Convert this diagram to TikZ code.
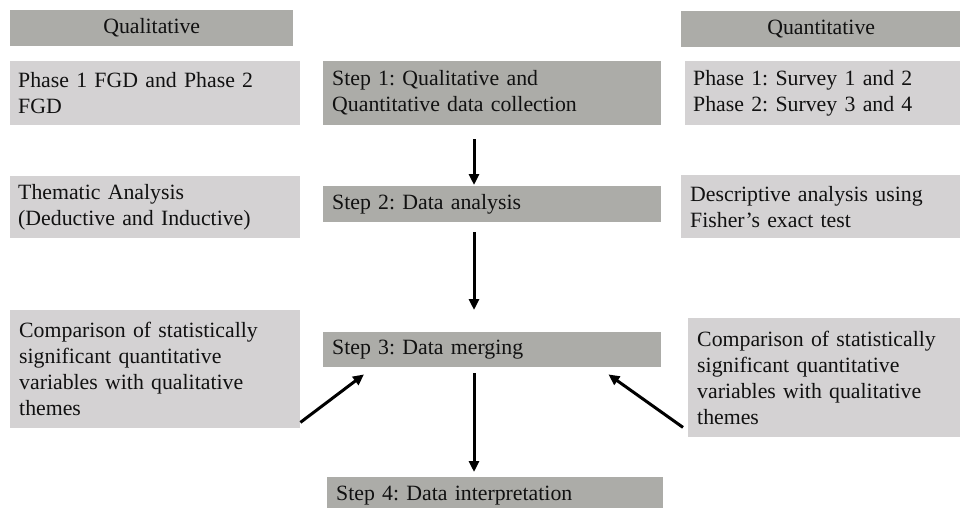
\documentclass[tikz,border=0pt]{standalone}
\usepackage{fontspec}
\setmainfont{Liberation Serif}
\frenchspacing
\usetikzlibrary{arrows.meta,calc}
\definecolor{darkbox}{RGB}{172,172,168}
\definecolor{lightbox}{RGB}{212,210,211}
\definecolor{ink}{RGB}{17,17,17}
\begin{document}
\begin{tikzpicture}[x=1pt,y=-1pt,
  every node/.style={font=\rmfamily\fontsize{21.8}{26}\selectfont, text=ink},
  base/.style={rectangle, anchor=north west, inner ysep=0pt, align=left},
  lightb/.style={base, fill=lightbox},
  darkb/.style={base, fill=darkbox},
  headb/.style={base, fill=darkbox, align=center, inner xsep=0pt},
  arr/.style={-{Triangle[length=11pt,width=10pt]}, line width=3pt, draw=black}
]
\clip (0,0) rectangle (960,508);
\fill[white] (0,0) rectangle (960,508);

% headers
\node[headb, text width=283pt, minimum height=36pt] (qualh) at (10,10) {Qualitative};
\node[headb, text width=280pt, minimum height=36pt] (quanth) at (681,11) {Quantitative};

% row 1
\node[lightb, inner xsep=8pt, text width=274pt, minimum height=64pt] (l1) at (10,61)
  {Phase 1 FGD and Phase 2\\FGD};
\node[darkb, inner xsep=9pt, text width=320pt, minimum height=64pt] (s1) at (323,61)
  {Step 1: Qualitative and\\Quantitative data collection};
\node[lightb, inner xsep=8pt, text width=269pt, minimum height=64pt] (r1) at (685,61)
  {Phase 1: Survey 1 and 2\\Phase 2: Survey 3 and 4};

% row 2
\node[lightb, inner xsep=8pt, text width=274pt, minimum height=62pt] (l2) at (10,176)
  {Thematic Analysis\\(Deductive and Inductive)};
\node[darkb, inner xsep=9pt, text width=320pt, minimum height=36pt] (s2) at (323,186)
  {Step 2: Data analysis};
\node[lightb, inner xsep=9pt, text width=272pt, minimum height=63pt] (r2) at (681,175)
  {Descriptive analysis using\\Fisher’s exact test};

% row 3
\node[lightb, inner xsep=9pt, text width=272pt, minimum height=118pt] (l3) at (10,310)
  {Comparison of statistically\\significant quantitative\\variables with qualitative\\themes};
\node[darkb, inner xsep=9pt, text width=320pt, minimum height=35pt] (s3) at (323,332)
  {Step 3: Data merging};
\node[lightb, inner xsep=9pt, text width=262pt, minimum height=119pt] (r3) at (688,318)
  {Comparison of statistically\\significant quantitative\\variables with qualitative\\themes};

% row 4
\node[darkb, inner xsep=9pt, text width=318pt, minimum height=36pt] (s4) at (327,477)
  {Step 4: Data interpretation};

% arrows
\draw[arr] ($(s1.south west)+(151,14)$) -- ($(s2.north west)+(151,-1)$);
\draw[arr] ($(s2.south west)+(151,10)$) -- ($(s3.north west)+(151,-22)$);
\draw[arr] ($(s3.south west)+(151,6)$) -- ($(s4.north west)+(147,-5)$);
\draw[arr] ($(l3.south east)+(0,-6)$) -- ($(s3.south west)+(41,7)$);
\draw[arr] ($(r3.south west)+(-5,-10)$) -- ($(s3.south east)+(-53,7)$);
\end{tikzpicture}
\end{document}
